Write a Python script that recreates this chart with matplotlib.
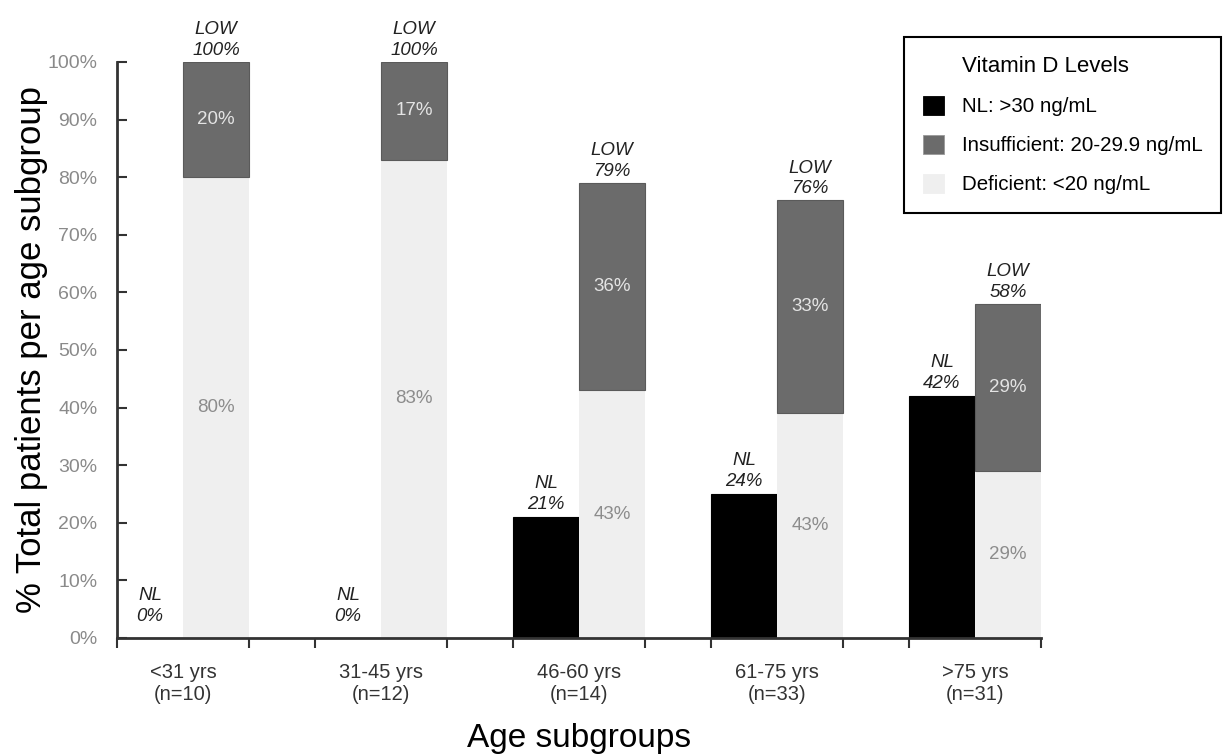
import numpy as np
import matplotlib
matplotlib.use("Agg")
from matplotlib import pyplot as plt
from matplotlib.patches import Patch

###* DATA
groups = ["<31 yrs\n(n=10)", "31-45 yrs\n(n=12)", "46-60 yrs\n(n=14)", "61-75 yrs\n(n=33)", ">75 yrs\n(n=31)"]
normal = [0, 0, 21, 25, 42]
deficient = [80, 83, 43, 39, 29]
insufficient = [20, 17, 36, 37, 29]
nl_labels = ["0%", "0%", "21%", "24%", "42%"]
low_labels = ["100%", "100%", "79%", "76%", "58%"]
def_labels = ["80%", "83%", "43%", "43%", "29%"]
ins_labels = ["20%", "17%", "36%", "33%", "29%"]
legend_labels = ["NL: >30 ng/mL", "Insufficient: 20-29.9 ng/mL", "Deficient: <20 ng/mL"]

###* STYLE
plt.rcParams["font.family"] = ["Liberation Sans", "DejaVu Sans"]
C_NL, C_INS, C_DEF = "#000000", "#6b6b6b", "#efefef"
AX_COL = "#333333"

###* FIGURE
fig = plt.figure(figsize=(12.28, 7.55), dpi=100)
ax = fig.add_axes([0.0953, 0.155, 0.7524, 0.7629])

x = np.arange(len(groups)) * 3
low_total = np.add(deficient, insufficient)
ax.bar(x + 0.5, normal, width=1, color=C_NL, edgecolor=C_NL, linewidth=0.8)
ax.bar(x + 1.5, deficient, width=1, color=C_DEF, linewidth=0)
ax.bar(x + 1.5, insufficient, bottom=deficient, width=1, color=C_INS, edgecolor="#5a5a5a", linewidth=0.8)

#* labels on / above bars
for i in range(len(groups)):
    ax.annotate("NL\n" + nl_labels[i], (x[i] + 0.5, max(normal[i], 1.5)), xytext=(0, 3), textcoords="offset points",
                ha="center", va="bottom", fontsize=13.5, style="italic", color="#222222", linespacing=1.3)
    ax.annotate("LOW\n" + low_labels[i], (x[i] + 1.5, low_total[i]), xytext=(0, 2), textcoords="offset points",
                ha="center", va="bottom", fontsize=13.5, style="italic", color="#222222", linespacing=1.3)
    ax.text(x[i] + 1.5, deficient[i] / 2, def_labels[i], ha="center", va="center", fontsize=13.5, color="#8c8c8c")
    ax.text(x[i] + 1.5, deficient[i] + insufficient[i] / 2, ins_labels[i], ha="center", va="center", fontsize=13.5, color="#e4e4e4")

#* axes
ax.set_xlim(0, x[-1] + 2)
ax.set_ylim(0, 100)
ax.set_yticks(np.arange(0, 101, 10))
ax.set_yticklabels(["{0}%".format(v) for v in range(0, 101, 10)])
ax.set_xticks(x + 1)
ax.set_xticklabels(groups)
ax.set_xticks(np.sort(np.concatenate([x, x + 2])), minor=True)
ax.tick_params(axis="x", which="major", length=0, pad=18, labelsize=14.5, labelcolor="#333333")
ax.tick_params(axis="x", which="minor", direction="out", length=7, width=1.5, color=AX_COL)
ax.tick_params(axis="y", direction="in", length=7, width=1.5, color=AX_COL, pad=14, labelsize=14, labelcolor="#8a8a8a")
for s in ["top", "right"]:
    ax.spines[s].set_visible(False)
for s in ["left", "bottom"]:
    ax.spines[s].set_color(AX_COL)
    ax.spines[s].set_linewidth(2)
ax.set_ylabel("% Total patients per age subgroup", fontsize=25, labelpad=0)
ax.set_xlabel("Age subgroups", fontsize=24, labelpad=14)

#* legend
handles = [Patch(alpha=0)] + [Patch(facecolor=c, edgecolor="#999999" if c == C_INS else c, linewidth=0.6) for c in (C_NL, C_INS, C_DEF)]
leg = ax.legend(handles, ["Vitamin D Levels"] + legend_labels, loc="upper left", bbox_to_anchor=(904 / 1228, 1 - 37 / 755),
                bbox_transform=fig.transFigure, fontsize=14.8, frameon=True, fancybox=False, framealpha=1,
                edgecolor="black", handlelength=1.05, handleheight=1.05, handletextpad=0.85, labelspacing=0.9,
                borderpad=0.9, borderaxespad=0)
leg.get_frame().set_linewidth(1.5)
leg.get_texts()[0].set_fontsize(16)

fig.savefig("out.png", dpi=100)
